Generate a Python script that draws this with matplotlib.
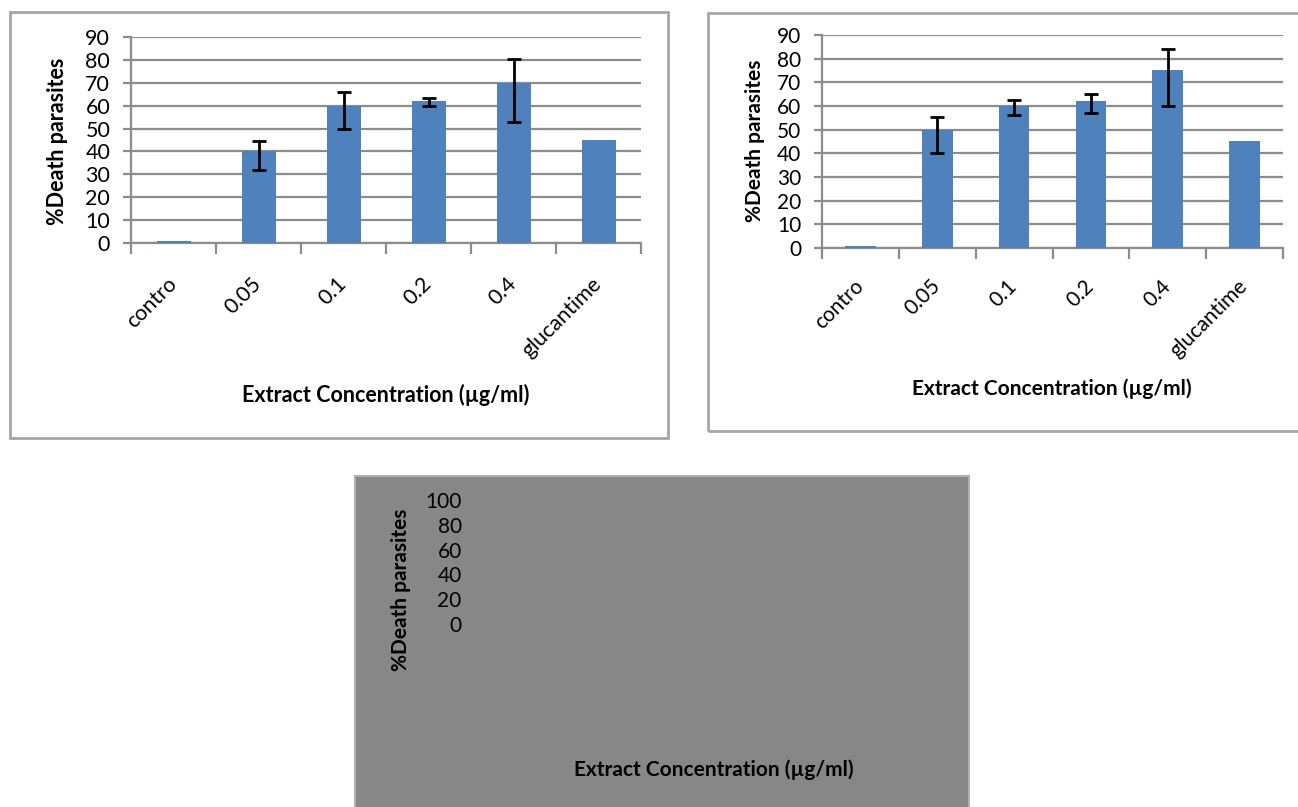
"""Percent parasite death vs extract concentration, two bar charts plus an empty third panel"""

import numpy as np
import matplotlib.pyplot as plt
from matplotlib.patches import Rectangle

plt.rcParams['font.family'] = ['Lato', 'DejaVu Sans']

W, H = 1298, 807

categories = ['contro', '0.05', '0.1', '0.2', '0.4', 'glucantime']

# left chart
left_values = [1, 40, 60, 62, 70, 45]
left_err_low = [0, 8, 10, 2, 17, 0]
left_err_high = [0, 4.5, 6, 1.5, 10.5, 0]

# right chart
right_values = [1, 50, 60, 62, 75, 45]
right_err_low = [0, 10, 4, 5, 15, 0]
right_err_high = [0, 5.5, 2.5, 3, 9, 0]

# bottom (empty) chart
bottom_ticks = [0, 20, 40, 60, 80, 100]

ylabel = '%Death parasites'
xlabel = 'Extract Concentration (\u00b5g/ml)'

bar_color = '#4F81BD'
grid_color = '#8c8c8c'

fig = plt.figure(figsize=(W / 100, H / 100), dpi=100)


def px_axes(x0, y0, x1, y1):
    return fig.add_axes([x0 / W, 1 - y1 / H, (x1 - x0) / W, (y1 - y0) / H])


def frame(x0, y0, x1, y1, **kw):
    fig.add_artist(Rectangle((x0 / W, 1 - y1 / H), (x1 - x0) / W, (y1 - y0) / H,
                             transform=fig.transFigure, zorder=-5, **kw))


def draw_chart(ax, values, lo, hi, fs, pad):
    x = np.arange(len(categories))
    vals = np.array(values, dtype=float)
    lo = np.array(lo, dtype=float)
    hi = np.array(hi, dtype=float)
    ax.bar(x, vals, width=0.4, color=bar_color, zorder=3)
    idx = (lo > 0) | (hi > 0)
    ax.errorbar(x[idx], vals[idx], yerr=[lo[idx], hi[idx]], fmt='none',
                ecolor='black', elinewidth=2, capsize=5, capthick=2, zorder=4)
    ax.set_xlim(-0.5, 5.5)
    ax.set_ylim(0, 90)
    ax.set_yticks(range(0, 91, 10))
    ax.yaxis.grid(True, color=grid_color, lw=1.6)
    ax.set_axisbelow(True)
    ax.set_facecolor('none')
    for s in ['top', 'right']:
        ax.spines[s].set_visible(False)
    for s in ['left', 'bottom']:
        ax.spines[s].set_color(grid_color)
        ax.spines[s].set_linewidth(1.6)
    ax.tick_params(axis='y', length=6, color=grid_color, width=1.6,
                   labelsize=fs, pad=9)
    ax.set_xticks(x)
    ax.set_xticklabels(categories, rotation=45, ha='right', va='center',
                       rotation_mode='anchor', fontsize=fs)
    ax.tick_params(axis='x', which='major', length=0, pad=pad)
    ax.set_xticks(np.arange(-0.5, 6, 1), minor=True)
    ax.tick_params(axis='x', which='minor', length=8, color=grid_color, width=1.6)


# frames
frame(10, 12, 668, 438, fill=False, edgecolor='#a6a6a6', lw=2)
frame(708, 13, 1300, 431, fill=False, edgecolor='#a6a6a6', lw=2)
frame(355, 476, 969, 810, facecolor='#878787', edgecolor='#b0b0b0', lw=1.5)

# left chart
ax1 = px_axes(131, 37, 641, 243)
draw_chart(ax1, left_values, left_err_low, left_err_high, 15.5, 27)
fig.text(58 / W, 1 - 141 / H, ylabel, rotation=90, ha='center', va='center',
         fontsize=15.5, fontweight='bold')
fig.text(386 / W, 1 - 395 / H, xlabel, ha='center', va='center',
         fontsize=15.5, fontweight='bold')

# right chart
ax2 = px_axes(822, 35, 1283, 248)
draw_chart(ax2, right_values, right_err_low, right_err_high, 15, 25)
fig.text(755 / W, 1 - 141 / H, ylabel, rotation=90, ha='center', va='center',
         fontsize=15, fontweight='bold')
fig.text(1052 / W, 1 - 389 / H, xlabel, ha='center', va='center',
         fontsize=15, fontweight='bold')

# bottom chart: only axis labels survive
ax3 = px_axes(470, 500, 960, 624)
ax3.set_ylim(0, 100)
ax3.set_yticks(bottom_ticks)
ax3.set_xticks([])
ax3.tick_params(axis='y', length=0, labelsize=15, pad=6, labelcolor='black')
ax3.set_facecolor('none')
for s in ax3.spines.values():
    s.set_visible(False)
fig.text(401 / W, 1 - 590 / H, ylabel, rotation=90, ha='center', va='center',
         fontsize=15, fontweight='bold')
fig.text(714 / W, 1 - 770 / H, xlabel, ha='center', va='center',
         fontsize=15, fontweight='bold')

fig.savefig('out.png', dpi=100)
